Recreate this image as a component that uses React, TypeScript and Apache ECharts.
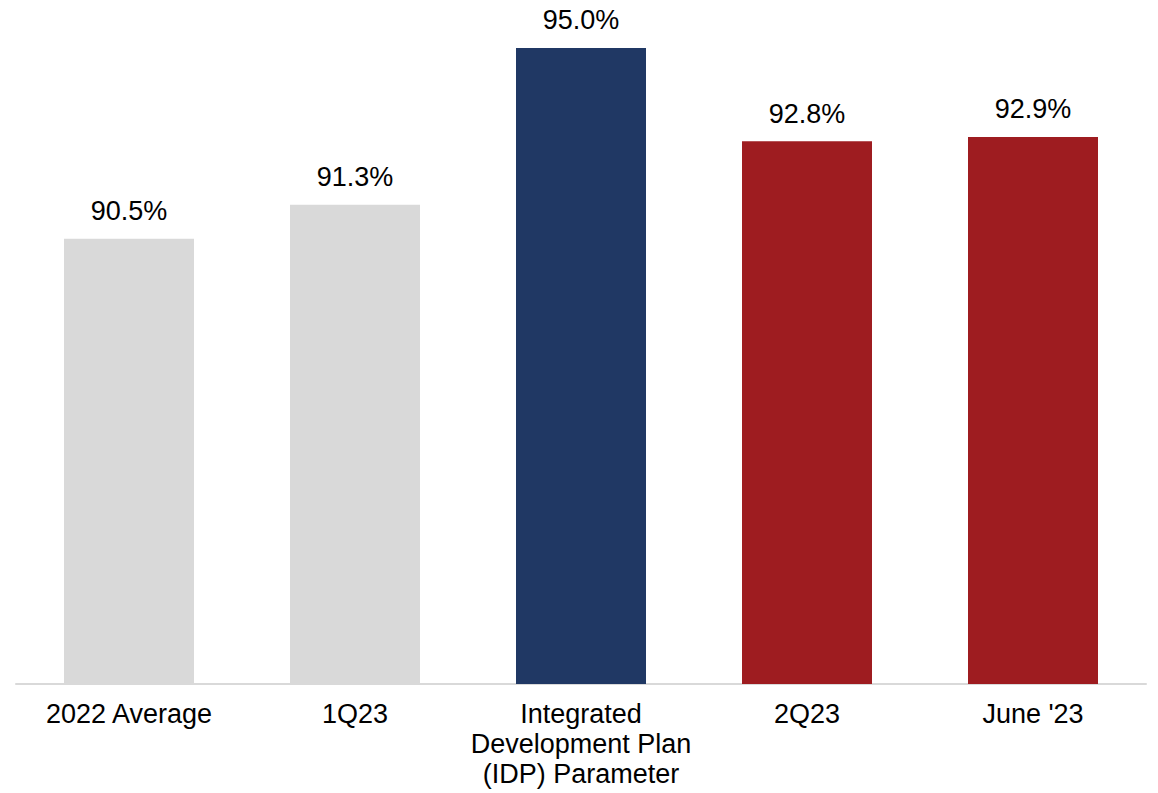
import React, { useEffect, useRef } from "react";
import * as echarts from "echarts";

const categories = [
  "2022 Average",
  "1Q23",
  "Integrated\nDevelopment Plan\n(IDP) Parameter",
  "2Q23",
  "June '23",
];
const values = [90.5, 91.3, 95.0, 92.8, 92.9];
const barColors = ["#D9D9D9", "#D9D9D9", "#203864", "#9E1C20", "#9E1C20"];

export default function App() {
  const ref = useRef<HTMLDivElement>(null);
  useEffect(() => {
    if (!ref.current) return;
    const chart = echarts.init(ref.current, undefined, { renderer: "svg" });
    chart.setOption({
      animation: false,
      backgroundColor: "#ffffff",
      grid: { left: 16, right: 12, top: 5.5, bottom: 109, containLabel: false },
      xAxis: {
        type: "category",
        data: categories,
        axisLine: { show: true, lineStyle: { color: "#D9D9D9", width: 2 } },
        axisTick: { show: false },
        axisLabel: {
          color: "#000000",
          fontFamily: "Liberation Sans, Arial, sans-serif",
          fontSize: 27,
          lineHeight: 30,
          margin: 15,
          interval: 0,
        },
      },
      yAxis: {
        type: "value",
        min: 80,
        max: 96,
        show: false,
        splitLine: { show: false },
      },
      series: [
        {
          type: "bar",
          barWidth: 130,
          data: values.map((v, i) => ({ value: v, itemStyle: { color: barColors[i] } })),
          label: {
            show: true,
            position: "top",
            distance: 14,
            color: "#000000",
            fontFamily: "Liberation Sans, Arial, sans-serif",
            fontSize: 27,
            formatter: (p: any) => p.value.toFixed(1) + "%",
          },
        },
      ],
    });
    return () => chart.dispose();
  }, []);
  return (
    <div
      ref={ref}
      style={{ position: "fixed", left: 0, top: 0, width: 1158, height: 793 }}
    />
  );
}
